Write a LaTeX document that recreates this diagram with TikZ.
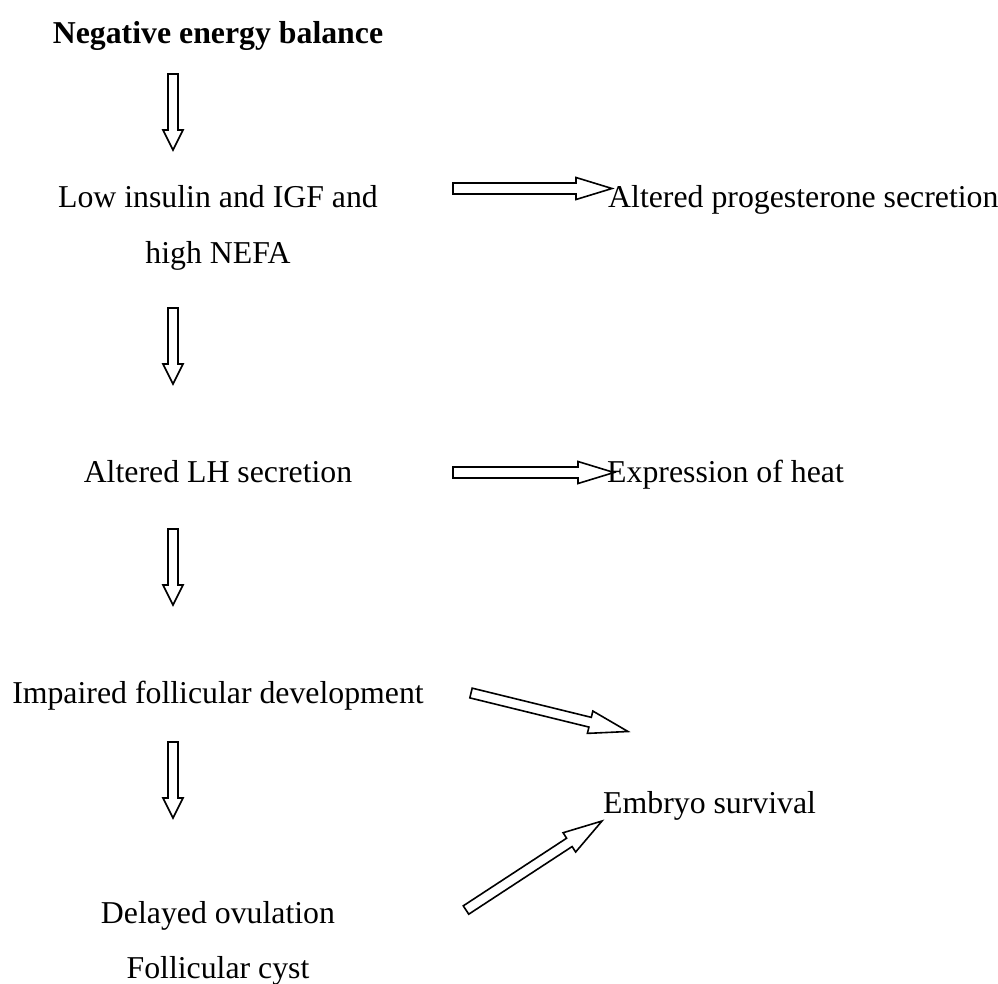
\documentclass[tikz,border=0pt]{standalone}
\usepackage{fontspec}
\setmainfont{Liberation Serif}
\newdimen\baxa \newdimen\baya \newdimen\baxb \newdimen\bayb
\tikzset{
  lbl/.style={inner sep=0pt, font=\fontsize{31.8}{38}\selectfont},
  cl/.style={lbl, anchor=base},
  ll/.style={lbl, anchor=base west},
  blk/.style={draw=black, line width=1.6pt, line join=miter, fill=white}
}
% block arrow from coordinate #1 to coordinate #2; shaft half-width #3, head half-width #4, head length #5 (pt)
\newcommand\blockarrow[5]{%
  \pgfextractx{\baxa}{\pgfpointanchor{#1}{center}}%
  \pgfextracty{\baya}{\pgfpointanchor{#1}{center}}%
  \pgfextractx{\baxb}{\pgfpointanchor{#2}{center}}%
  \pgfextracty{\bayb}{\pgfpointanchor{#2}{center}}%
  \pgfmathsetmacro\baang{atan2(\bayb-\baya,\baxb-\baxa)}%
  \pgfmathsetmacro\balen{veclen(\baxb-\baxa,\bayb-\baya)}%
  \pgfmathsetmacro\babase{\balen-#5}%
  \draw[blk, shift={(\baxa,\baya)}, rotate=\baang]
    (0pt,#3pt) -- (\babase pt,#3pt) -- (\babase pt,#4pt) -- (\balen pt,0pt)
    -- (\babase pt,-#4pt) -- (\babase pt,-#3pt) -- (0pt,-#3pt) -- cycle;
}
\begin{document}
\begin{tikzpicture}[x=1pt,y=-1pt]
\useasboundingbox (0,0) rectangle (998,983);
% texts
\node[cl, font=\fontsize{31.8}{38}\selectfont\bfseries] (neb) at (218,43) {Negative energy balance};
\node[cl] (low1) at (218,207) {Low insulin and IGF and};
\node[cl] (low2) at (218,263) {high NEFA};
\node[ll] (prog) at (608,207) {Altered progesterone secretion};
\node[cl] (lh) at (218,482) {Altered LH secretion};
\node[ll] (heat) at (607,482) {Expression of heat};
\node[cl] (imp) at (218,703) {Impaired follicular development};
\node[ll] (emb) at (603,813) {Embryo survival};
\node[cl] (del) at (218,923) {Delayed ovulation};
\node[cl] (cyst) at (218,978) {Follicular cyst};
% arrow end points
\coordinate (a1s) at (173,74);  \coordinate (a1e) at (173,150);
\coordinate (a2s) at (173,308); \coordinate (a2e) at (173,384);
\coordinate (a3s) at (173,529); \coordinate (a3e) at (173,605);
\coordinate (a4s) at (173,742); \coordinate (a4e) at (173,818);
\coordinate (h1s) at (453,188.5); \coordinate (h1e) at (612,188.5);
\coordinate (h2s) at (453,472.5); \coordinate (h2e) at (614,472.5);
\coordinate (d1s) at (471,693); \coordinate (d1e) at (628,731.5);
\coordinate (d2s) at (466,910); \coordinate (d2e) at (602,821);
% block arrows
\blockarrow{a1s}{a1e}{5}{10}{20}
\blockarrow{a2s}{a2e}{5}{10}{20}
\blockarrow{a3s}{a3e}{5}{10}{20}
\blockarrow{a4s}{a4e}{5}{10}{20}
\blockarrow{h1s}{h1e}{5.5}{11}{36}
\blockarrow{h2s}{h2e}{5.5}{11}{36}
\blockarrow{d1s}{d1e}{5}{11.5}{39}
\blockarrow{d2s}{d2e}{5}{11.5}{39}
\end{tikzpicture}
\end{document}
